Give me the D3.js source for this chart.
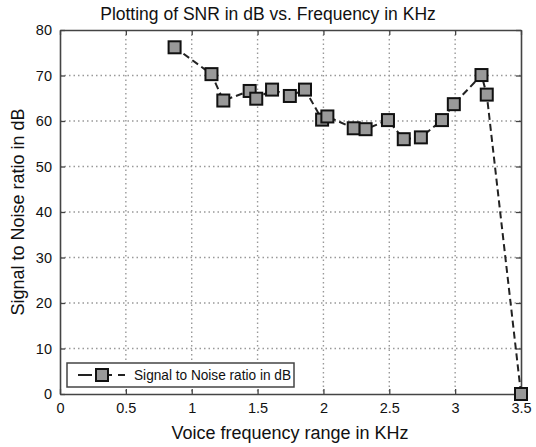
<!DOCTYPE html>
<html>
<head>
<meta charset="utf-8">
<script src="https://cdn.jsdelivr.net/npm/d3@7"></script>
<style>
  body { margin: 0; background: #fff; }
  text { font-family: "Liberation Sans", Arial, sans-serif; fill: #111; }
</style>
</head>
<body>
<div id="chart"></div>
<script>
// values
var freq = [0.87, 1.15, 1.24, 1.44, 1.49, 1.61, 1.745, 1.86, 1.99, 2.03, 2.23, 2.32, 2.49, 2.61, 2.74, 2.90, 2.99, 3.20, 3.24, 3.5];
var snr  = [76.2, 70.3, 64.5, 66.6, 64.9, 66.9, 65.5, 66.9, 60.3, 61.0, 58.4, 58.2, 60.2, 56.0, 56.4, 60.2, 63.7, 70.1, 65.8, 0];
var xTicks = [0, 0.5, 1, 1.5, 2, 2.5, 3, 3.5];
var yTicks = [0, 10, 20, 30, 40, 50, 60, 70, 80];
var xTickLabels = ["0", "0.5", "1", "1.5", "2", "2.5", "3", "3.5"];

var svgWidth = 536;
var svgHeight = 447;

var margin = { top: 30, right: 15, bottom: 53, left: 60 };
var width = svgWidth - margin.left - margin.right;
var height = svgHeight - margin.top - margin.bottom;

var svg = d3.select("#chart")
  .append("svg")
  .attr("width", svgWidth)
  .attr("height", svgHeight);

var chartGroup = svg.append("g")
  .attr("transform", `translate(${margin.left}, ${margin.top})`);

var xScale = d3.scaleLinear().domain([0, 3.5]).range([0, width]);
var yScale = d3.scaleLinear().domain([0, 80]).range([height, 0]);

// dotted grid
chartGroup.selectAll(".vgrid")
  .data(xTicks.slice(1, -1))
  .enter()
  .append("line")
  .attr("x1", d => xScale(d)).attr("x2", d => xScale(d))
  .attr("y1", 0).attr("y2", height)
  .attr("stroke", "#999")
  .attr("stroke-width", 1.4)
  .attr("stroke-dasharray", "1.5,3");

chartGroup.selectAll(".hgrid")
  .data(yTicks.slice(1, -1))
  .enter()
  .append("line")
  .attr("x1", 0).attr("x2", width)
  .attr("y1", d => yScale(d)).attr("y2", d => yScale(d))
  .attr("stroke", "#999")
  .attr("stroke-width", 1.4)
  .attr("stroke-dasharray", "1.5,3");

// axes with inside ticks, matlab style box
var bottomAxis = d3.axisBottom(xScale).tickValues(xTicks)
  .tickFormat((d, i) => xTickLabels[i]).tickSizeInner(-5).tickSizeOuter(0).tickPadding(9);
var leftAxis = d3.axisLeft(yScale).tickValues(yTicks).tickSizeInner(-5).tickSizeOuter(0).tickPadding(8);
var topAxis = d3.axisTop(xScale).tickValues(xTicks).tickSizeInner(-5).tickSizeOuter(0).tickFormat("");
var rightAxis = d3.axisRight(yScale).tickValues(yTicks).tickSizeInner(-5).tickSizeOuter(0).tickFormat("");

var gx = chartGroup.append("g").attr("transform", `translate(0, ${height})`).call(bottomAxis);
var gy = chartGroup.append("g").call(leftAxis);
var gt = chartGroup.append("g").call(topAxis);
var gr = chartGroup.append("g").attr("transform", `translate(${width}, 0)`).call(rightAxis);

[gx, gy, gt, gr].forEach(function(g) {
  g.selectAll("path").attr("stroke", "#444").attr("stroke-width", 1.6);
  g.selectAll("line").attr("stroke", "#444").attr("stroke-width", 1.3);
  g.selectAll("text").style("font-size", "14.5px").attr("fill", "#111");
});

// data line
var line = d3.line()
  .x((d, i) => xScale(freq[i]))
  .y(d => yScale(d));

chartGroup.append("path")
  .datum(snr)
  .attr("d", line)
  .attr("fill", "none")
  .attr("stroke", "#222")
  .attr("stroke-width", 2)
  .attr("stroke-dasharray", "7,4");

chartGroup.selectAll(".pt")
  .data(snr)
  .enter()
  .append("rect")
  .attr("x", (d, i) => xScale(freq[i]) - 6)
  .attr("y", d => yScale(d) - 6)
  .attr("width", 12)
  .attr("height", 12)
  .attr("fill", "#999")
  .attr("stroke", "#111")
  .attr("stroke-width", 2);

// legend
var legend = chartGroup.append("g").attr("transform", "translate(7, 333)");
legend.append("rect")
  .attr("width", 227).attr("height", 24)
  .attr("fill", "#fff").attr("stroke", "#444").attr("stroke-width", 1.5);
legend.append("line")
  .attr("x1", 11).attr("x2", 58).attr("y1", 12).attr("y2", 12)
  .attr("stroke", "#222").attr("stroke-width", 2).attr("stroke-dasharray", "14,6");
legend.append("rect")
  .attr("x", 29).attr("y", 6).attr("width", 12).attr("height", 12)
  .attr("fill", "#999").attr("stroke", "#111").attr("stroke-width", 2);
legend.append("text")
  .attr("x", 67).attr("y", 17)
  .style("font-size", "14.5px")
  .attr("textLength", 157)
  .attr("lengthAdjust", "spacingAndGlyphs")
  .text("Signal to Noise ratio in dB");

// titles
svg.append("text")
  .attr("x", 268)
  .attr("y", 20)
  .attr("text-anchor", "middle")
  .style("font-size", "17.5px")
  .text("Plotting of SNR in dB vs. Frequency in KHz");

svg.append("text")
  .attr("x", 290)
  .attr("y", 439)
  .attr("text-anchor", "middle")
  .style("font-size", "18px")
  .text("Voice frequency range in KHz");

svg.append("text")
  .attr("transform", "rotate(-90)")
  .attr("x", -(margin.top + height / 2))
  .attr("y", 24)
  .attr("text-anchor", "middle")
  .style("font-size", "18px")
  .text("Signal to Noise ratio in dB");
</script>
</body>
</html>
